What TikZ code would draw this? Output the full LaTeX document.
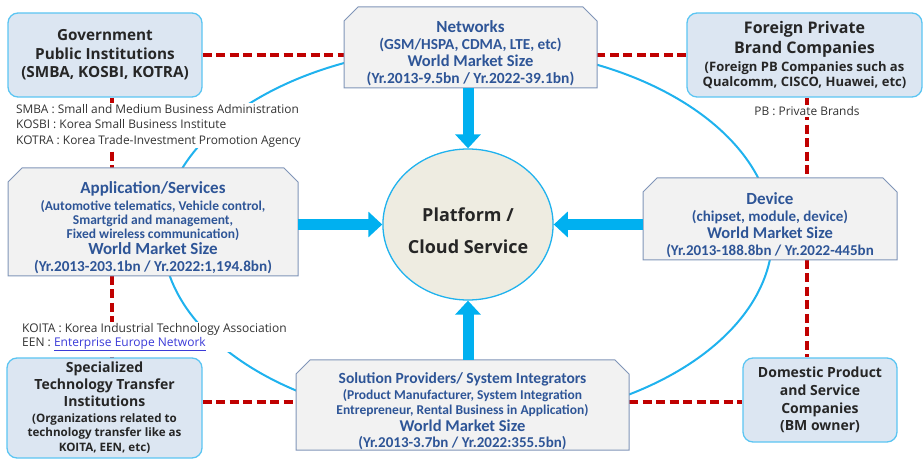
\documentclass[tikz,border=0pt]{standalone}
\usepackage{fontspec}
\setmainfont{Open Sans}
\newfontfamily\calfont{Carlito}
\usetikzlibrary{arrows.meta,calc,shapes.geometric}
\definecolor{rbfill}{HTML}{DCE6F2}
\definecolor{rbline}{HTML}{5BC5F2}
\definecolor{snfill}{HTML}{F2F2F2}
\definecolor{snline}{HTML}{8095B8}
\definecolor{sntext}{HTML}{2E5597}
\definecolor{darktx}{HTML}{262626}
\definecolor{notetx}{HTML}{333333}
\definecolor{skyb}{HTML}{00B0F0}
\definecolor{ellb}{HTML}{1FB2EE}
\definecolor{platfill}{HTML}{EEECE1}
\definecolor{redd}{HTML}{C00000}
\definecolor{linkb}{HTML}{3B3BD8}
\pgfdeclarelayer{bg}\pgfdeclarelayer{mid}\pgfsetlayers{bg,mid,main}
\newcommand\fsz[2]{\fontsize{#1}{#2}\selectfont}
\newcommand\snipt[1]{\raisebox{-7.5pt}[\height][\depth]{\fsz{15}{17}\begin{tabular}{@{}c@{}}#1\end{tabular}}}
\tikzset{
 rbox/.style={rectangle, rounded corners=10pt, draw=rbline, line width=1.3pt, fill=rbfill, text=darktx, align=center, inner sep=0pt},
 sbox/.style={rectangle, inner sep=0pt, outer sep=0pt, text=sntext, font=\calfont\bfseries},
 snipline/.style={draw=snline, line width=1pt, fill=snfill},
 reddash/.style={draw=redd, line width=3.2pt, dash pattern=on 9pt off 4.5pt},
 bigarrow/.style={draw=skyb, line width=11pt, -{Triangle[width=25pt,length=14pt]}},
 note/.style={fill=white, inner sep=1pt, align=left, text=notetx, font=\fsz{11.9}{15.5}},
 platnode/.style={ellipse, draw=ellb, line width=1.3pt, fill=platfill, text=darktx, font=\bfseries\fsz{18}{32}, inner sep=0pt},
}
\begin{document}
\begin{tikzpicture}[x=1pt,y=-1pt]
\useasboundingbox (0,0) rectangle (924,462);
% rounded boxes
\node[rbox, minimum width=194pt, minimum height=84pt, font=\bfseries\fsz{15.3}{18.5}] (gov) at (105,55)
  {Government\\Public Institutions\\(SMBA, KOSBI, KOTRA)};
\node[rbox, minimum width=235pt, minimum height=84pt, font=\bfseries\fsz{16}{20}] (for) at (804.5,55)
  {Foreign Private\\Brand Companies\\[-2pt]{\fsz{13}{15}(Foreign PB Companies such as}\\[-5pt]{\fsz{13}{15}Qualcomm, CISCO, Huawei, etc)}};
\node[rbox, minimum width=195pt, minimum height=100pt, font=\bfseries\fsz{14}{17}] (spec) at (104.5,408)
  {Specialized\\Technology Transfer\\Institutions\\[-1pt]{\fsz{11.6}{14}(Organizations related to}\\[-3pt]{\fsz{11.6}{14}technology transfer like as}\\[-2pt]{\fsz{11.6}{14}KOITA, EEN, etc)}};
\node[rbox, minimum width=154pt, minimum height=84pt, font=\bfseries\fsz{14}{17.6}] (dom) at (820,400)
  {Domestic Product\\and Service\\Companies\\(BM owner)};
% snip boxes (text)
\node[sbox, minimum width=253pt, minimum height=81pt] (net) at (470.5,47.5)
  {\snipt{{\fsz{17}{17}Networks}\\ {\fsz{15.3}{17}(GSM/HSPA, CDMA, LTE, etc)}\\ {\fsz{16.5}{17}World Market Size}\\ {\fsz{15.5}{17}(Yr.2013-9.5bn / Yr.2022-39.1bn)}}};
\node[sbox, minimum width=290pt, minimum height=108pt] (app) at (153,222)
  {\snipt{{\fsz{17}{17}Application/Services}\\ {\fsz{13.5}{17}(Automotive telematics, Vehicle control,}\\[-3pt] {\fsz{13.5}{17}Smartgrid and management,}\\[-3pt] {\fsz{13.5}{17}Fixed wireless communication)}\\[-1pt] {\fsz{17}{17}World Market Size}\\ {\fsz{15.2}{17}(Yr.2013-203.1bn / Yr.2022:1,194.8bn)}}};
\node[sbox, minimum width=254pt, minimum height=82pt] (dev) at (770,219)
  {\snipt{{\fsz{17}{17}Device}\\ {\fsz{15}{17}(chipset, module, device)}\\ {\fsz{16.5}{17}World Market Size}\\ {\fsz{15}{17}(Yr.2013-188.8bn / Yr.2022-445bn}}};
\node[sbox, minimum width=333pt, minimum height=90pt] (sol) at (462.5,405)
  {\snipt{{\fsz{15.5}{17}Solution Providers/ System Integrators}\\[-1pt] {\fsz{13.5}{17}(Product Manufacturer, System Integration}\\[-2pt] {\fsz{13.5}{17}Entrepreneur, Rental Business in Application)}\\ {\fsz{16.5}{17}World Market Size}\\[-1pt] {\fsz{15}{17}(Yr.2013-3.7bn / Yr.2022:355.5bn)}}};
% center
\node[platnode, minimum width=170pt, minimum height=151pt] (plat) at (468,224.5)
  {\raisebox{-7pt}[\height][\depth]{\begin{tabular}{@{}c@{}}Platform /\\Cloud Service\end{tabular}}};
% notes
\node[note, anchor=west] (govnote) at (15,125.5)
  {SMBA : Small and Medium Business Administration\\KOSBI : Korea Small Business Institute\\KOTRA : Korea Trade-Investment Promotion Agency};
\node[note, anchor=center] (pbnote) at (807,111) {PB : Private Brands};
\node[note, anchor=west, font=\fsz{12}{14}] (koitanote) at (21,337)
  {KOITA : Korea Industrial Technology Association\\EEN : {\color{linkb}\underline{Enterprise Europe Network}}};
% snip outlines
\begin{pgfonlayer}{mid}
\foreach \n in {net,app,dev,sol}{
  \filldraw[snipline] (\n.south west) -- ([yshift=-14pt]\n.north west) -- ([xshift=14pt]\n.north west)
    -- ([xshift=-14pt]\n.north east) -- ([yshift=-14pt]\n.north east) -- (\n.south east) -- cycle;}
\end{pgfonlayer}
% background: ring and red links
\begin{pgfonlayer}{bg}
\draw[ellb, line width=2pt] (467.5,235) ellipse [x radius=305pt, y radius=188pt];
\coordinate (vl) at (112,0);
\coordinate (vr) at (807,0);
\coordinate (hb) at (0,402);
\draw[reddash] (gov.east) -- (gov.east -| net.west);
\draw[reddash] (for.west) -- (for.west -| net.east);
\draw[reddash] (gov.south -| vl) -- (app.north -| vl);
\draw[reddash] (app.south -| vl) -- (spec.north -| vl);
\draw[reddash] (for.south -| vr) -- (dev.north -| vr);
\draw[reddash] (dev.south -| vr) -- (dom.north -| vr);
\draw[reddash] (spec.east |- hb) -- (sol.west |- hb);
\draw[reddash] (sol.east |- hb) -- (dom.west |- hb);
\end{pgfonlayer}
% arrows
\draw[bigarrow] (net.south -| plat.north) -- (plat.north);
\draw[bigarrow] (sol.north -| plat.south) -- (plat.south);
\draw[bigarrow] (app.east |- plat.west) -- (plat.west);
\draw[bigarrow] (dev.west |- plat.east) -- (plat.east);
\end{tikzpicture}
\end{document}
